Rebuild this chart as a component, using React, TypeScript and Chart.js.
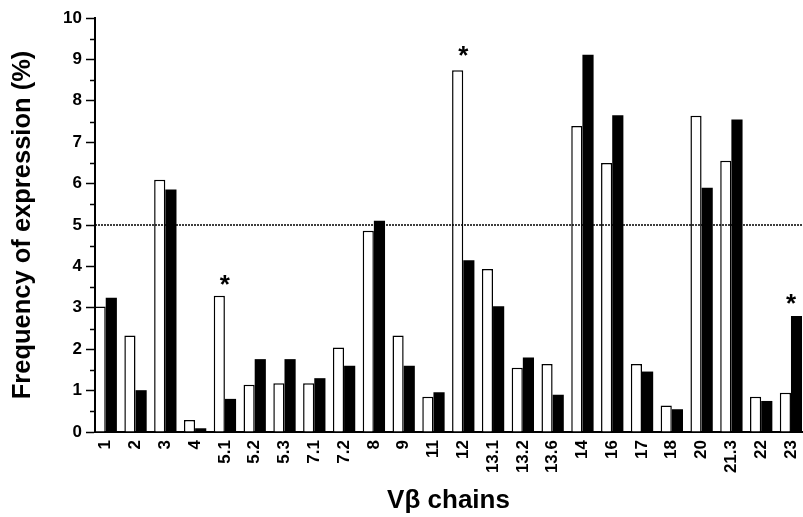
import React, { useEffect, useRef } from 'react';
import { Chart, registerables } from 'chart.js';

Chart.register(...registerables);

const categories = ['1', '2', '3', '4', '5.1', '5.2', '5.3', '7.1', '7.2', '8', '9', '11', '12', '13.1', '13.2', '13.6', '14', '16', '17', '18', '20', '21.3', '22', '23'];
const whiteValues = [3.03, 2.33, 6.09, 0.29, 3.29, 1.14, 1.18, 1.18, 2.04, 4.86, 2.33, 0.85, 8.74, 3.94, 1.55, 1.64, 7.39, 6.5, 1.64, 0.64, 7.64, 6.55, 0.85, 0.95];
const blackValues = [3.24, 1.01, 5.86, 0.09, 0.8, 1.76, 1.76, 1.3, 1.6, 5.1, 1.6, 0.96, 4.15, 3.04, 1.8, 0.9, 9.11, 7.65, 1.46, 0.55, 5.9, 7.55, 0.75, 2.8];
const yTickValues = [0, 1, 2, 3, 4, 5, 6, 7, 8, 9, 10];
const yMinorTickValues = [0.5, 1.5, 2.5, 3.5, 4.5, 5.5, 6.5, 7.5, 8.5, 9.5];
const starCategories = ['5.1', '12', '23'];
const starValues = [3.72, 9.25, 3.26];
const thresholdValue = 5;

const FONT = '"Liberation Sans", Arial, sans-serif';

const overlayPlugin = {
  id: 'overlay',
  afterDatasetsDraw(chart: any) {
    const { ctx, chartArea, scales } = chart;
    const x = scales.x;
    const y = scales.y;
    ctx.save();
    // dotted threshold line
    const yt = y.getPixelForValue(thresholdValue);
    ctx.strokeStyle = '#000';
    ctx.lineWidth = 1.5;
    ctx.setLineDash([2, 1]);
    ctx.beginPath();
    ctx.moveTo(chartArea.left, yt);
    ctx.lineTo(chartArea.right, yt);
    ctx.stroke();
    ctx.setLineDash([]);
    // minor ticks
    ctx.lineWidth = 1.5;
    yMinorTickValues.forEach((v) => {
      const py = Math.round(y.getPixelForValue(v)) + 0.5;
      ctx.beginPath();
      ctx.moveTo(chartArea.left - 5, py);
      ctx.lineTo(chartArea.left, py);
      ctx.stroke();
    });
    // significance stars
    ctx.fillStyle = '#000';
    ctx.font = `bold 26px ${FONT}`;
    ctx.textAlign = 'center';
    ctx.textBaseline = 'alphabetic';
    starCategories.forEach((c, i) => {
      const px = x.getPixelForValue(categories.indexOf(c));
      const py = y.getPixelForValue(starValues[i]);
      ctx.fillText('*', px, py + 15);
    });
    ctx.restore();
  },
};

export default function App() {
  const ref = useRef<HTMLCanvasElement>(null);

  useEffect(() => {
    if (!ref.current) return;
    const chart = new Chart(ref.current, {
      type: 'bar',
      data: {
        datasets: [
          {
            label: 'white',
            data: whiteValues.map((v, i) => ({ x: i, y: v })),
            backgroundColor: '#ffffff',
            borderColor: '#000000',
            borderWidth: 1.5,
            categoryPercentage: 0.75,
            barPercentage: 1,
          },
          {
            label: 'black',
            data: blackValues.map((v, i) => ({ x: i, y: v })),
            backgroundColor: '#000000',
            borderColor: '#000000',
            borderWidth: 0,
            categoryPercentage: 0.75,
            barPercentage: 1,
          },
        ],
      },
      options: {
        animation: false,
        responsive: false,
        layout: { padding: { top: 18, right: 1, left: 0, bottom: 0 } },
        plugins: { legend: { display: false }, tooltip: { enabled: false } },
        scales: {
          x: {
            type: 'linear',
            offset: false,
            min: -0.36,
            max: 23.37,
            afterBuildTicks: (scale: any) => {
              scale.ticks = categories.map((_, i) => ({ value: i }));
            },
            afterFit: (scale: any) => {
              scale.height = 85;
              scale.paddingLeft = 0;
              scale.paddingRight = 0;
            },
            grid: { display: false, drawTicks: false, offset: false },
            border: { display: true, color: '#000', width: 2 },
            ticks: {
              autoSkip: false,
              minRotation: 90,
              maxRotation: 90,
              padding: 8,
              color: '#000',
              font: { family: FONT, size: 17, weight: 'bold' },
              callback: (v: any) => categories[v] ?? '',
            },
            title: {
              display: true,
              text: 'Vβ chains',
              color: '#000',
              font: { family: FONT, size: 26, weight: 'bold' },
              padding: { top: 0, bottom: 1 },
            },
          },
          y: {
            type: 'linear',
            min: 0,
            max: 10,
            afterBuildTicks: (scale: any) => {
              scale.ticks = yTickValues.map((v) => ({ value: v }));
            },
            afterFit: (scale: any) => {
              scale.width = 95;
              scale.paddingTop = 0;
              scale.paddingBottom = 0;
            },
            grid: { drawOnChartArea: false, drawTicks: true, tickLength: 9, tickWidth: 1.5, tickColor: '#000' },
            border: { display: true, color: '#000', width: 2 },
            ticks: {
              padding: 4,
              color: '#000',
              font: { family: FONT, size: 17, weight: 'bold' },
            },
            title: {
              display: true,
              text: 'Frequency of expression (%)',
              color: '#000',
              font: { family: FONT, size: 25.5, weight: 'bold' },
              padding: { top: 8, bottom: 0 },
            },
          },
        },
      },
      plugins: [overlayPlugin],
    } as any);
    return () => chart.destroy();
  }, []);

  return (
    <div style={{ position: 'fixed', left: 0, top: 0, width: 803, height: 517, background: '#fff' }}>
      <canvas ref={ref} width={803} height={517} style={{ display: 'block' }} />
    </div>
  );
}
